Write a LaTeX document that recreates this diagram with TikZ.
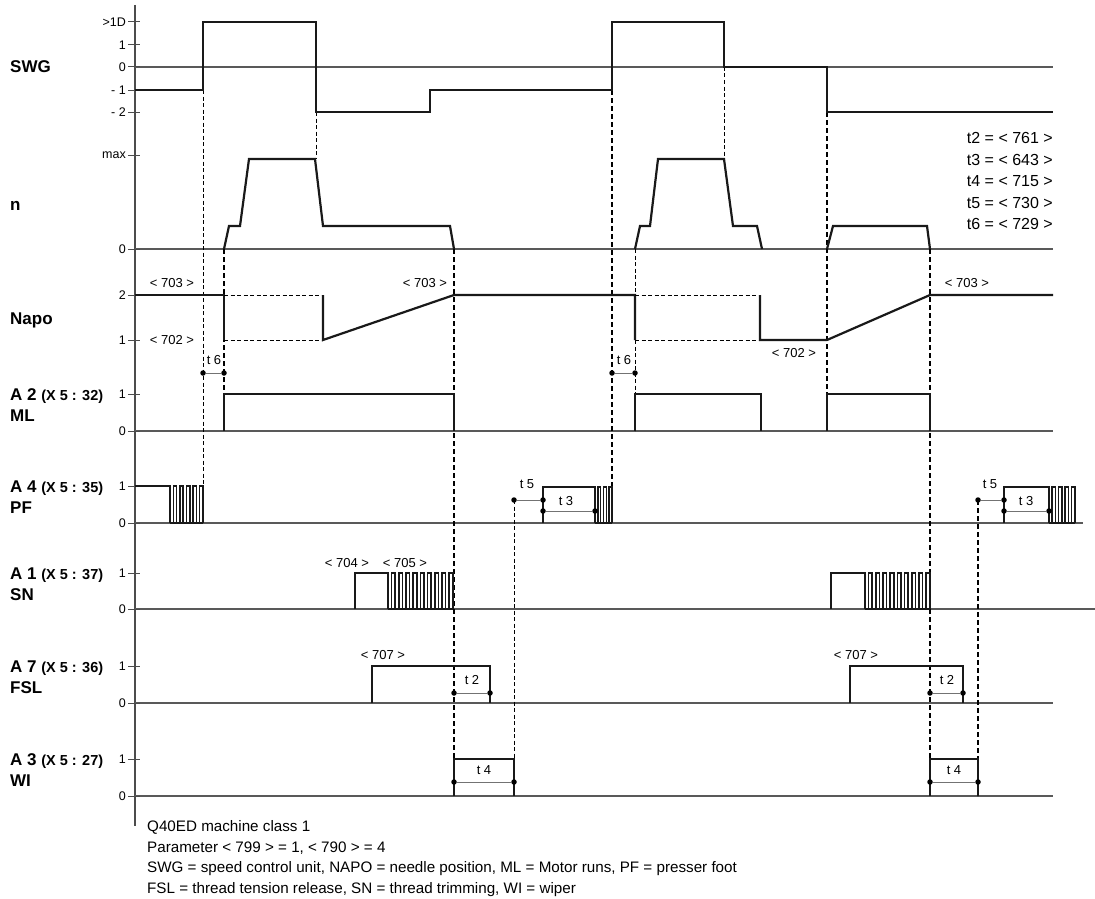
\documentclass[tikz,border=0pt]{standalone}
\usepackage{fontspec}
\setmainfont{Liberation Sans}
\newcommand\parsz{\fontsize{14.5}{17}\selectfont}
\begin{document}
\begin{tikzpicture}[x=1pt,y=-1pt,
  sig/.style={line width=2.2pt, draw=black!90, line join=miter},
  pul/.style={line width=1.5pt, draw=black!90, line join=miter},
  base/.style={line width=1.1pt, draw=black!65},
  tk/.style={line width=1pt, draw=black!70},
  dsh/.style={line width=1pt, draw=black, dash pattern=on 4pt off 2.5pt},
  dshb/.style={line width=1.7pt, draw=black, dash pattern=on 5pt off 3pt},
  meas/.style={line width=1pt, draw=black!55},
  dotn/.style={circle, fill=black, inner sep=0pt, minimum size=5.5pt},
  rowlab/.style={anchor=base west, inner sep=0pt, font=\fontsize{17}{20}\selectfont\bfseries},
  ticklab/.style={anchor=east, inner sep=0pt, font=\fontsize{12.5}{15}\selectfont},
  par/.style={inner sep=0pt, font=\fontsize{13}{15}\selectfont},
  tlab/.style={anchor=east, inner sep=0pt, font=\fontsize{16}{19}\selectfont},
  foot/.style={anchor=base west, inner sep=0pt, font=\fontsize{15.2}{18}\selectfont}
]
\useasboundingbox (0,0) rectangle (1095,899);

% ---------- axis ----------
\draw[line width=1.1pt, black!70] (135,5) -- (135,826);

% ---------- base (zero) lines ----------
\draw[base] (135,67) -- (1053,67);
\draw[base] (135,249) -- (1053,249);
\draw[base] (135,431) -- (1053,431);
\draw[base] (135,523) -- (1083,523);
\draw[base] (135,609) -- (1095,609);
\draw[base] (135,703) -- (1053,703);
\draw[base] (135,796) -- (1053,796);

% ---------- ticks ----------
\foreach \y in {22,45,67,90,112,155,249,295,340,394,431,486,523,573,609,666,703,759,796}
  \draw[tk] (128,\y) -- (140,\y);

% ---------- tick labels ----------
\node[ticklab] (s1) at (126,22) {>1D};
\node[ticklab] (s2) at (126,45) {1};
\node[ticklab] (s3) at (126,67) {0};
\node[ticklab] (s4) at (126,90) {- 1};
\node[ticklab] (s5) at (126,112) {- 2};
\node[ticklab] (n1) at (126,155) {max};
\node[ticklab] (n2) at (126,249) {0};
\node[ticklab] (p1) at (126,295) {2};
\node[ticklab] (p2) at (126,340) {1};
\node[ticklab] (m1) at (126,394) {1};
\node[ticklab] (m2) at (126,431) {0};
\node[ticklab] (f1) at (126,486) {1};
\node[ticklab] (f2) at (126,523) {0};
\node[ticklab] (c1) at (126,573) {1};
\node[ticklab] (c2) at (126,609) {0};
\node[ticklab] (r1) at (126,666) {1};
\node[ticklab] (r2) at (126,703) {0};
\node[ticklab] (w1) at (126,759) {1};
\node[ticklab] (w2) at (126,796) {0};

% ---------- row labels ----------
\node[rowlab] (lSWG) at (10,73) {SWG};
\node[rowlab] (ln) at (10,210) {n};
\node[rowlab] (lNapo) at (10,324) {Napo};
\node[rowlab] (lA2) at (10,400) {A 2 {\parsz(X 5 : 32)}};
\node[rowlab] (lML) at (10,421) {ML};
\node[rowlab] (lA4) at (10,492) {A 4 {\parsz(X 5 : 35)}};
\node[rowlab] (lPF) at (10,513) {PF};
\node[rowlab] (lA1) at (10,579) {A 1 {\parsz(X 5 : 37)}};
\node[rowlab] (lSN) at (10,600) {SN};
\node[rowlab] (lA7) at (10,672) {A 7 {\parsz(X 5 : 36)}};
\node[rowlab] (lFSL) at (10,693) {FSL};
\node[rowlab] (lA3) at (10,765) {A 3 {\parsz(X 5 : 27)}};
\node[rowlab] (lWI) at (10,786) {WI};

% ---------- dashed guide lines ----------
\draw[dsh]  (203,90) -- (203,486);
\draw[dshb] (224,249) -- (224,431);
\draw[dsh]  (316,112) -- (316,159);
\draw[dshb] (454,249) -- (454,796);
\draw[dsh]  (514,500) -- (514,796);
\draw[dshb] (612,90) -- (612,486);
\draw[dsh]  (635,249) -- (635,431);
\draw[dsh]  (724,67) -- (724,159);
\draw[dshb] (827,112) -- (827,431);
\draw[dshb] (930,249) -- (930,796);
\draw[dshb] (978,500) -- (978,796);

% ---------- SWG ----------
\draw[sig] (135,90) -- (203,90) -- (203,22) -- (316,22) -- (316,112) -- (430,112)
  -- (430,90) -- (612,90) -- (612,22) -- (724,22) -- (724,67) -- (827,67)
  -- (827,112) -- (1053,112);

% ---------- n ----------
\draw[sig] (224,249) -- (229,226) -- (240,226) -- (249,159) -- (315,159) -- (323,226) -- (450,226) -- (454,249);
\draw[sig] (635,249) -- (640,226) -- (650,226) -- (658,159) -- (724,159) -- (733,226) -- (757,226) -- (762,249);
\draw[sig] (827,249) -- (833,226) -- (927,226) -- (930,249);

% ---------- Napo ----------
\draw[sig] (135,295) -- (224,295) -- (224,340);
\draw[dsh] (224,295) -- (323,295);
\draw[dsh] (224,340) -- (323,340);
\draw[sig] (323,295) -- (323,340) -- (454,295) -- (635,295) -- (635,340);
\draw[dsh] (635,295) -- (760,295);
\draw[dsh] (635,340) -- (760,340);
\draw[sig] (760,295) -- (760,340) -- (827,340) -- (930,295) -- (1053,295);
\node[par] (q1) at (172,283) {< 703 >};
\node[par] (q2) at (172,340) {< 702 >};
\node[par] (q3) at (425,283) {< 703 >};
\node[par] (q4) at (794,353) {< 702 >};
\node[par] (q5) at (967,283) {< 703 >};

% t6
\node[dotn] (a6) at (203,373) {};
\node[dotn] (b6) at (224,373) {};
\draw[meas] (a6) -- (b6);
\node[par] (t6a) at (214,360) {t 6};
\node[dotn] (c6) at (612,373) {};
\node[dotn] (d6) at (635,373) {};
\draw[meas] (c6) -- (d6);
\node[par] (t6b) at (624,360) {t 6};

% ---------- ML ----------
\draw[sig] (224,431) -- (224,394) -- (454,394) -- (454,431);
\draw[sig] (635,431) -- (635,394) -- (761,394) -- (761,431);
\draw[sig] (827,431) -- (827,394) -- (930,394) -- (930,431);

% ---------- PF ----------
\draw[sig] (135,486) -- (170,486) -- (170,523);
\draw[pul] (170,523) -- (203,523);
\foreach \i in {0,...,4}
  \draw[pul] ({173.3+6.6*\i},523) |- ({176.6+6.6*\i},486) -- ({176.6+6.6*\i},523);
\draw[sig] (543,523) -- (543,487) -- (595,487) -- (595,523);
\draw[pul] (595,523) -- (612,523);
\foreach \i in {0,...,2}
  \draw[pul] ({597.8+5.67*\i},523) |- ({600.6+5.67*\i},487) -- ({600.6+5.67*\i},523);
\draw[sig] (1004,523) -- (1004,487) -- (1049,487) -- (1049,523);
\draw[pul] (1049,523) -- (1075,523);
\foreach \i in {0,...,3}
  \draw[pul] ({1052.2+6.5*\i},523) |- ({1055.5+6.5*\i},487) -- ({1055.5+6.5*\i},523);

% t5 / t3
\node[dotn] (a5) at (514,500) {};
\node[dotn] (b5) at (543,500) {};
\draw[meas] (a5) -- (b5);
\node[par] (t5a) at (527,484) {t 5};
\node[dotn] (a3) at (543,511) {};
\node[dotn] (b3) at (595,511) {};
\draw[meas] (a3) -- (b3);
\node[par] (t3a) at (566,501) {t 3};
\node[dotn] (c5) at (978,500) {};
\node[dotn] (d5) at (1004,500) {};
\draw[meas] (c5) -- (d5);
\node[par] (t5b) at (990,484) {t 5};
\node[dotn] (c3) at (1004,511) {};
\node[dotn] (d3) at (1049,511) {};
\draw[meas] (c3) -- (d3);
\node[par] (t3b) at (1026,501) {t 3};

% ---------- SN ----------
\draw[sig] (355,609) -- (355,573) -- (388,573) -- (388,609);
\draw[pul] (388,609) -- (453,609);
\foreach \i in {0,...,8}
  \draw[pul] ({391.6+7.2*\i},609) |- ({395.2+7.2*\i},573) -- ({395.2+7.2*\i},609);
\draw[sig] (831,609) -- (831,573) -- (865,573) -- (865,609);
\draw[pul] (865,609) -- (930,609);
\foreach \i in {0,...,8}
  \draw[pul] ({868.6+7.2*\i},609) |- ({872.2+7.2*\i},573) -- ({872.2+7.2*\i},609);
\node[par] (q704) at (347,563) {< 704 >};
\node[par] (q705) at (405,563) {< 705 >};

% ---------- FSL ----------
\draw[sig] (372,703) -- (372,666) -- (490,666) -- (490,703);
\draw[sig] (850,703) -- (850,666) -- (963,666) -- (963,703);
\node[par] (q707a) at (383,655) {< 707 >};
\node[par] (q707b) at (856,655) {< 707 >};
\node[dotn] (a2) at (454,693) {};
\node[dotn] (b2) at (490,693) {};
\draw[meas] (a2) -- (b2);
\node[par] (t2a) at (472,680) {t 2};
\node[dotn] (c2) at (930,693) {};
\node[dotn] (d2) at (963,693) {};
\draw[meas] (c2) -- (d2);
\node[par] (t2b) at (947,680) {t 2};

% ---------- WI ----------
\draw[sig] (454,796) -- (454,759) -- (514,759) -- (514,796);
\draw[sig] (930,796) -- (930,759) -- (978,759) -- (978,796);
\node[dotn] (a4) at (454,782) {};
\node[dotn] (b4) at (514,782) {};
\draw[meas] (a4) -- (b4);
\node[par] (t4a) at (484,770) {t 4};
\node[dotn] (c4) at (930,782) {};
\node[dotn] (d4) at (978,782) {};
\draw[meas] (c4) -- (d4);
\node[par] (t4b) at (954,770) {t 4};

% ---------- parameter list ----------
\node[tlab] (T2) at (1053,138) {t2 = < 761 >};
\node[tlab] (T3) at (1053,160) {t3 = < 643 >};
\node[tlab] (T4) at (1053,181) {t4 = < 715 >};
\node[tlab] (T5) at (1053,203) {t5 = < 730 >};
\node[tlab] (T6) at (1053,224) {t6 = < 729 >};

% ---------- footer ----------
\node[foot] (F1) at (147,831) {Q40ED machine class 1};
\node[foot] (F2) at (147,852) {Parameter < 799 > = 1, < 790 > = 4};
\node[foot] (F3) at (147,872) {SWG = speed control unit, NAPO = needle position, ML = Motor runs, PF = presser foot};
\node[foot] (F4) at (147,893) {FSL = thread tension release, SN = thread trimming, WI = wiper};
\end{tikzpicture}
\end{document}
